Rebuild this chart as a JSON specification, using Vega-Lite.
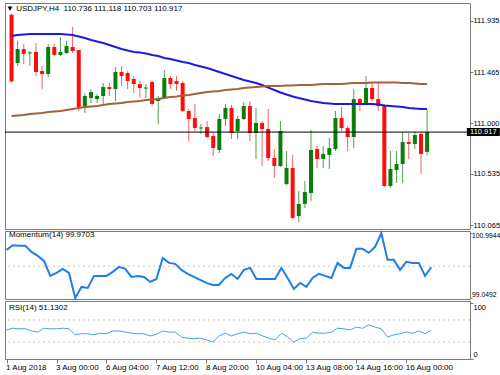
{
  "$schema": "https://vega.github.io/schema/vega-lite/v6.json",
  "padding": {"left": 2, "top": 2, "right": 0, "bottom": 0},
  "bounds": "flush",
  "spacing": 2,
  "background": "white",
  "config": {
    "font": "Liberation Sans",
    "view": {"stroke": "#7a7a7a", "strokeWidth": 1},
    "axis": {"labelFont": "Liberation Sans", "labelFontSize": 7.5, "labelColor": "#000000", "tickColor": "#7a7a7a", "tickSize": 3, "domain": false, "grid": false, "title": null, "labelPadding": 0}
  },
  "datasets": {
    "bars": [
      {"i":0,"o":111.99,"h":112.0,"l":111.37,"c":111.38,"ma1":111.795,"ma2":111.064,"mom":100.49,"rsi":52},
      {"i":1,"o":111.548,"h":111.75,"l":111.521,"c":111.676,"ma1":111.804,"ma2":111.069,"mom":100.63,"rsi":55},
      {"i":2,"o":111.676,"h":111.722,"l":111.539,"c":111.631,"ma1":111.809,"ma2":111.073,"mom":100.61,"rsi":54},
      {"i":3,"o":111.636,"h":111.658,"l":111.521,"c":111.645,"ma1":111.814,"ma2":111.082,"mom":100.61,"rsi":54},
      {"i":4,"o":111.649,"h":111.731,"l":111.43,"c":111.466,"ma1":111.814,"ma2":111.087,"mom":100.43,"rsi":50},
      {"i":5,"o":111.475,"h":111.521,"l":111.311,"c":111.448,"ma1":111.814,"ma2":111.091,"mom":100.31,"rsi":48},
      {"i":6,"o":111.448,"h":111.722,"l":111.42,"c":111.695,"ma1":111.814,"ma2":111.101,"mom":100.16,"rsi":55},
      {"i":7,"o":111.695,"h":111.722,"l":111.612,"c":111.622,"ma1":111.814,"ma2":111.105,"mom":99.71,"rsi":54},
      {"i":8,"o":111.622,"h":111.786,"l":111.612,"c":111.649,"ma1":111.814,"ma2":111.11,"mom":99.8,"rsi":54},
      {"i":9,"o":111.64,"h":111.75,"l":111.631,"c":111.704,"ma1":111.809,"ma2":111.119,"mom":99.92,"rsi":55},
      {"i":10,"o":111.695,"h":111.878,"l":111.64,"c":111.658,"ma1":111.804,"ma2":111.128,"mom":99.8,"rsi":54},
      {"i":11,"o":111.667,"h":111.667,"l":111.11,"c":111.146,"ma1":111.791,"ma2":111.137,"mom":99.0492,"rsi":43},
      {"i":12,"o":111.155,"h":111.274,"l":111.091,"c":111.247,"ma1":111.777,"ma2":111.146,"mom":99.38,"rsi":45},
      {"i":13,"o":111.229,"h":111.311,"l":111.183,"c":111.283,"ma1":111.759,"ma2":111.151,"mom":99.35,"rsi":45},
      {"i":14,"o":111.219,"h":111.265,"l":111.183,"c":111.247,"ma1":111.745,"ma2":111.155,"mom":99.71,"rsi":43},
      {"i":15,"o":111.247,"h":111.366,"l":111.174,"c":111.329,"ma1":111.731,"ma2":111.165,"mom":99.71,"rsi":46},
      {"i":16,"o":111.329,"h":111.366,"l":111.247,"c":111.311,"ma1":111.713,"ma2":111.174,"mom":99.71,"rsi":45},
      {"i":17,"o":111.311,"h":111.512,"l":111.201,"c":111.466,"ma1":111.695,"ma2":111.178,"mom":99.83,"rsi":50},
      {"i":18,"o":111.466,"h":111.521,"l":111.338,"c":111.43,"ma1":111.676,"ma2":111.183,"mom":99.98,"rsi":50},
      {"i":19,"o":111.457,"h":111.475,"l":111.311,"c":111.384,"ma1":111.663,"ma2":111.192,"mom":99.92,"rsi":48},
      {"i":20,"o":111.402,"h":111.43,"l":111.274,"c":111.356,"ma1":111.649,"ma2":111.197,"mom":99.68,"rsi":46},
      {"i":21,"o":111.356,"h":111.384,"l":111.229,"c":111.32,"ma1":111.644,"ma2":111.201,"mom":99.71,"rsi":45},
      {"i":22,"o":111.315,"h":111.356,"l":111.229,"c":111.324,"ma1":111.635,"ma2":111.21,"mom":99.68,"rsi":45},
      {"i":23,"o":111.375,"h":111.384,"l":111.155,"c":111.174,"ma1":111.622,"ma2":111.215,"mom":99.53,"rsi":41},
      {"i":24,"o":111.201,"h":111.247,"l":110.991,"c":111.229,"ma1":111.612,"ma2":111.219,"mom":99.62,"rsi":44},
      {"i":25,"o":111.229,"h":111.484,"l":111.219,"c":111.411,"ma1":111.594,"ma2":111.229,"mom":100.25,"rsi":50},
      {"i":26,"o":111.411,"h":111.43,"l":111.311,"c":111.356,"ma1":111.585,"ma2":111.238,"mom":100.1,"rsi":48},
      {"i":27,"o":111.384,"h":111.43,"l":111.293,"c":111.356,"ma1":111.571,"ma2":111.242,"mom":100.07,"rsi":48},
      {"i":28,"o":111.366,"h":111.384,"l":111.101,"c":111.11,"ma1":111.558,"ma2":111.251,"mom":99.89,"rsi":39},
      {"i":29,"o":111.11,"h":111.128,"l":110.835,"c":111.037,"ma1":111.548,"ma2":111.256,"mom":99.77,"rsi":37},
      {"i":30,"o":111.046,"h":111.174,"l":110.927,"c":110.954,"ma1":111.53,"ma2":111.265,"mom":99.68,"rsi":36},
      {"i":31,"o":110.95,"h":110.991,"l":110.899,"c":110.959,"ma1":111.516,"ma2":111.274,"mom":99.59,"rsi":37},
      {"i":32,"o":110.963,"h":111.018,"l":110.863,"c":110.872,"ma1":111.503,"ma2":111.283,"mom":99.5,"rsi":34},
      {"i":33,"o":110.881,"h":110.909,"l":110.698,"c":110.771,"ma1":111.484,"ma2":111.288,"mom":99.44,"rsi":30},
      {"i":34,"o":110.753,"h":111.082,"l":110.726,"c":111.037,"ma1":111.466,"ma2":111.293,"mom":99.44,"rsi":41},
      {"i":35,"o":111.037,"h":111.174,"l":110.973,"c":111.137,"ma1":111.448,"ma2":111.302,"mom":99.65,"rsi":46},
      {"i":36,"o":111.137,"h":111.165,"l":110.854,"c":110.909,"ma1":111.43,"ma2":111.306,"mom":99.77,"rsi":41},
      {"i":37,"o":110.927,"h":111.064,"l":110.854,"c":111.037,"ma1":111.411,"ma2":111.311,"mom":99.62,"rsi":45},
      {"i":38,"o":111.037,"h":111.192,"l":111.027,"c":111.155,"ma1":111.393,"ma2":111.32,"mom":99.89,"rsi":48},
      {"i":39,"o":111.155,"h":111.201,"l":110.835,"c":110.909,"ma1":111.379,"ma2":111.324,"mom":99.95,"rsi":45},
      {"i":40,"o":110.909,"h":111.137,"l":110.671,"c":111.0,"ma1":111.366,"ma2":111.329,"mom":99.62,"rsi":46},
      {"i":41,"o":111.0,"h":111.018,"l":110.607,"c":110.945,"ma1":111.347,"ma2":111.334,"mom":99.62,"rsi":41},
      {"i":42,"o":110.945,"h":111.128,"l":110.653,"c":110.68,"ma1":111.324,"ma2":111.338,"mom":99.62,"rsi":37},
      {"i":43,"o":110.68,"h":110.762,"l":110.497,"c":110.607,"ma1":111.302,"ma2":111.338,"mom":99.62,"rsi":34},
      {"i":44,"o":110.607,"h":111.018,"l":110.598,"c":110.927,"ma1":111.279,"ma2":111.338,"mom":99.95,"rsi":46},
      {"i":45,"o":110.442,"h":110.744,"l":110.433,"c":110.589,"ma1":111.261,"ma2":111.343,"mom":99.65,"rsi":39},
      {"i":46,"o":110.589,"h":110.708,"l":110.122,"c":110.132,"ma1":111.242,"ma2":111.343,"mom":99.32,"rsi":30},
      {"i":47,"o":110.15,"h":110.378,"l":110.095,"c":110.26,"ma1":111.229,"ma2":111.347,"mom":99.5,"rsi":36},
      {"i":48,"o":110.26,"h":110.47,"l":110.223,"c":110.369,"ma1":111.215,"ma2":111.347,"mom":99.38,"rsi":37},
      {"i":49,"o":110.36,"h":110.936,"l":110.287,"c":110.753,"ma1":111.201,"ma2":111.347,"mom":99.65,"rsi":48},
      {"i":50,"o":110.762,"h":110.79,"l":110.589,"c":110.671,"ma1":111.192,"ma2":111.352,"mom":99.77,"rsi":46},
      {"i":51,"o":110.671,"h":110.79,"l":110.589,"c":110.717,"ma1":111.183,"ma2":111.356,"mom":99.71,"rsi":46},
      {"i":52,"o":110.708,"h":110.863,"l":110.58,"c":110.771,"ma1":111.178,"ma2":111.356,"mom":99.65,"rsi":48},
      {"i":53,"o":110.762,"h":111.11,"l":110.744,"c":111.046,"ma1":111.174,"ma2":111.356,"mom":100.1,"rsi":55},
      {"i":54,"o":111.046,"h":111.146,"l":110.927,"c":110.954,"ma1":111.174,"ma2":111.356,"mom":99.95,"rsi":54},
      {"i":55,"o":110.954,"h":110.973,"l":110.744,"c":110.872,"ma1":111.174,"ma2":111.361,"mom":99.95,"rsi":52},
      {"i":56,"o":110.872,"h":111.311,"l":110.771,"c":111.219,"ma1":111.174,"ma2":111.366,"mom":100.52,"rsi":57},
      {"i":57,"o":111.219,"h":111.229,"l":111.11,"c":111.174,"ma1":111.174,"ma2":111.366,"mom":100.52,"rsi":55},
      {"i":58,"o":111.174,"h":111.43,"l":111.165,"c":111.32,"ma1":111.174,"ma2":111.366,"mom":100.4,"rsi":61},
      {"i":59,"o":111.32,"h":111.366,"l":111.201,"c":111.219,"ma1":111.174,"ma2":111.37,"mom":100.58,"rsi":57},
      {"i":60,"o":111.219,"h":111.366,"l":111.11,"c":111.155,"ma1":111.169,"ma2":111.37,"mom":100.9944,"rsi":54},
      {"i":61,"o":111.155,"h":111.174,"l":110.415,"c":110.424,"ma1":111.16,"ma2":111.37,"mom":100.19,"rsi":39},
      {"i":62,"o":110.424,"h":110.744,"l":110.406,"c":110.58,"ma1":111.155,"ma2":111.37,"mom":100.19,"rsi":43},
      {"i":63,"o":110.57,"h":110.744,"l":110.452,"c":110.625,"ma1":111.151,"ma2":111.37,"mom":99.89,"rsi":45},
      {"i":64,"o":110.625,"h":110.918,"l":110.452,"c":110.826,"ma1":111.146,"ma2":111.366,"mom":100.13,"rsi":48},
      {"i":65,"o":110.826,"h":110.909,"l":110.671,"c":110.808,"ma1":111.137,"ma2":111.366,"mom":100.1,"rsi":46},
      {"i":66,"o":110.808,"h":110.918,"l":110.762,"c":110.89,"ma1":111.133,"ma2":111.361,"mom":100.1,"rsi":50},
      {"i":67,"o":110.899,"h":110.918,"l":110.534,"c":110.717,"ma1":111.128,"ma2":111.356,"mom":99.71,"rsi":45},
      {"i":68,"o":110.736,"h":111.118,"l":110.703,"c":110.917,"ma1":111.128,"ma2":111.356,"mom":99.9703,"rsi":51.1302}
    ]
  },
  "vconcat": [
    {
      "width": 465,
      "height": 226,
      "title": {"text": "▼ USDJPY,H4\u00a0 110.736 111.118 110.703 110.917", "anchor": "start", "frame": "group", "offset": -10, "dx": 1, "fontSize": 8, "fontWeight": "normal", "color": "#000000", "font": "Liberation Sans"},
      "data": {"name": "bars"},
      "layer": [
        {
          "mark": {"type": "rule", "strokeWidth": 1},
          "encoding": {
            "x": {"field": "i", "type": "quantitative", "scale": {"domain": [-0.25, 74.2], "nice": false, "zero": false}, "axis": null},
            "y": {"field": "l", "type": "quantitative", "scale": {"domain": [110.031, 112.097], "nice": false, "zero": false},
                  "axis": {"orient": "right", "values": [110.065, 110.3, 110.535, 110.765, 111.0, 111.235, 111.465, 111.7, 111.935], "format": ".3f"}},
            "y2": {"field": "h"},
            "color": {"condition": {"test": "datum.c >= datum.o", "value": "#4f9f4f"}, "value": "#f26464"}
          }
        },
        {
          "mark": {"type": "bar", "size": 4},
          "encoding": {
            "x": {"field": "i", "type": "quantitative", "scale": {"domain": [-0.25, 74.2], "nice": false, "zero": false}, "axis": null},
            "y": {"field": "o", "type": "quantitative", "scale": {"domain": [110.031, 112.097], "nice": false, "zero": false}},
            "y2": {"field": "c"},
            "color": {"condition": {"test": "datum.c >= datum.o", "value": "#0b7d0b"}, "value": "#ff0d0d"}
          }
        },
        {
          "mark": {"type": "line", "strokeWidth": 2, "color": "#1c1ce0"},
          "encoding": {
            "x": {"field": "i", "type": "quantitative", "scale": {"domain": [-0.25, 74.2], "nice": false, "zero": false}, "axis": null},
            "y": {"field": "ma1", "type": "quantitative", "scale": {"domain": [110.031, 112.097], "nice": false, "zero": false}}
          }
        },
        {
          "mark": {"type": "line", "strokeWidth": 2, "color": "#a5603c"},
          "encoding": {
            "x": {"field": "i", "type": "quantitative", "scale": {"domain": [-0.25, 74.2], "nice": false, "zero": false}, "axis": null},
            "y": {"field": "ma2", "type": "quantitative", "scale": {"domain": [110.031, 112.097], "nice": false, "zero": false}}
          }
        },
        {
          "data": {"values": [{"price": 110.917}]},
          "mark": {"type": "rule", "color": "#000000", "strokeWidth": 1},
          "encoding": {
            "y": {"field": "price", "type": "quantitative", "scale": {"domain": [110.031, 112.097], "nice": false, "zero": false}}
          }
        },
        {
          "data": {"values": [{"price": 110.917}]},
          "mark": {"type": "point", "shape": "M-1,-0.24H1V0.24H-1Z", "filled": true, "color": "#000000", "opacity": 1, "size": 1089},
          "encoding": {
            "x": {"datum": 77.2, "type": "quantitative", "scale": {"domain": [-0.25, 74.2], "nice": false, "zero": false}},
            "y": {"field": "price", "type": "quantitative", "scale": {"domain": [110.031, 112.097], "nice": false, "zero": false}}
          }
        },
        {
          "data": {"values": [{"price": 110.917}]},
          "mark": {"type": "text", "color": "#ffffff", "fontSize": 7.5, "align": "center", "baseline": "middle", "font": "Liberation Sans"},
          "encoding": {
            "x": {"datum": 77.2, "type": "quantitative", "scale": {"domain": [-0.25, 74.2], "nice": false, "zero": false}},
            "y": {"field": "price", "type": "quantitative", "scale": {"domain": [110.031, 112.097], "nice": false, "zero": false}},
            "text": {"field": "price", "format": ".3f"}
          }
        }
      ]
    },
    {
      "width": 465,
      "height": 68,
      "title": {"text": "Momentum(14) 99.9703", "anchor": "start", "frame": "group", "offset": -10, "dx": 4, "fontSize": 8, "fontWeight": "normal", "color": "#000000", "font": "Liberation Sans"},
      "data": {"name": "bars"},
      "layer": [
        {
          "data": {"values": [{"level": 100}]},
          "mark": {"type": "rule", "color": "#c8c8c8", "strokeWidth": 1, "strokeDash": [2, 3]},
          "encoding": {
            "y": {"field": "level", "type": "quantitative", "scale": {"domain": [99.019, 101.054], "nice": false, "zero": false},
                  "axis": {"orient": "right", "values": [99.0492, 100, 100.9944], "labelExpr": "'' + datum.value", "labelFlush": 5, "labelFontSize": 6.8, "tickSize": 2, "labelPadding": -0.5}}
          }
        },
        {
          "mark": {"type": "line", "strokeWidth": 2, "color": "#1f7fe6"},
          "encoding": {
            "x": {"field": "i", "type": "quantitative", "scale": {"domain": [-0.25, 74.2], "nice": false, "zero": false}, "axis": null},
            "y": {"field": "mom", "type": "quantitative", "scale": {"domain": [99.019, 101.054], "nice": false, "zero": false}}
          }
        }
      ]
    },
    {
      "width": 465,
      "height": 58,
      "title": {"text": "RSI(14) 51.1302", "anchor": "start", "frame": "group", "offset": -11, "dx": 4, "fontSize": 8, "fontWeight": "normal", "color": "#000000", "font": "Liberation Sans"},
      "data": {"name": "bars"},
      "layer": [
        {
          "data": {"values": [{"level": 30}, {"level": 70}]},
          "mark": {"type": "rule", "color": "#c8c8c8", "strokeWidth": 1, "strokeDash": [2, 3]},
          "encoding": {
            "y": {"field": "level", "type": "quantitative", "scale": {"domain": [-0.9, 104.5], "nice": false, "zero": false},
                  "axis": {"orient": "right", "values": [0, 30, 70, 100], "format": "d", "labelFlush": 5}}
          }
        },
        {
          "mark": {"type": "line", "strokeWidth": 1, "color": "#4aa0f0"},
          "encoding": {
            "x": {"field": "i", "type": "quantitative", "scale": {"domain": [-0.25, 74.2], "nice": false, "zero": false},
                  "axis": {"orient": "bottom", "values": [0, 8, 16, 24, 32, 40, 48, 56, 64], "labelExpr": "['1 Aug 2018','3 Aug 00:00','6 Aug 04:00','7 Aug 12:00','8 Aug 20:00','10 Aug 04:00','13 Aug 08:00','14 Aug 16:00','16 Aug 00:00'][datum.value / 8]", "labelAlign": "left", "labelFlush": false, "labelPadding": 0, "tickSize": 4, "labelOffset": -1, "labelFontSize": 8}},
            "y": {"field": "rsi", "type": "quantitative", "scale": {"domain": [-0.9, 104.5], "nice": false, "zero": false}}
          }
        }
      ]
    }
  ]
}
